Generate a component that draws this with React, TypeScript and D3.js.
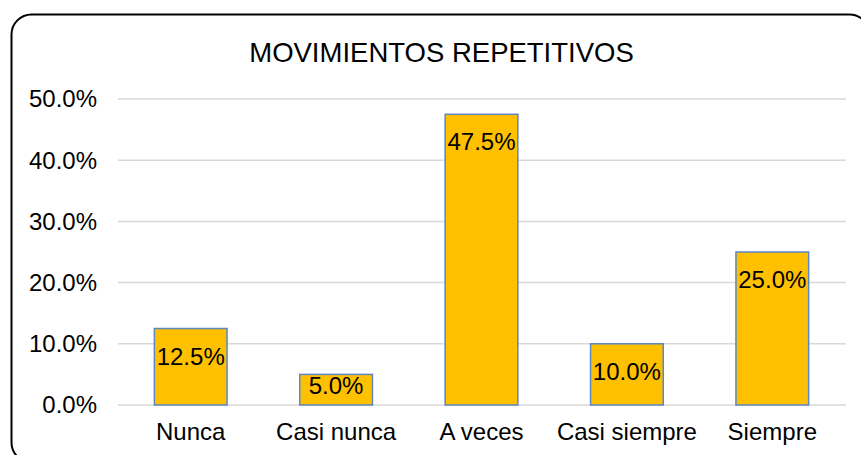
import { scaleBand, scaleLinear } from 'd3'

const categories = ['Nunca', 'Casi nunca', 'A veces', 'Casi siempre', 'Siempre']
const values = [12.5, 5.0, 47.5, 10.0, 25.0]
const yTicks = [0, 10, 20, 30, 40, 50]
const title = 'MOVIMIENTOS REPETITIVOS'

const width = 861
const height = 455
const font = 'Liberation Sans, Arial, sans-serif'

const x = scaleBand()
  .domain(categories)
  .range([118, 845])
  .paddingInner(0.5)
  .paddingOuter(0.25)

const y = scaleLinear().domain([0, 50]).range([405, 99])

function App() {
  return (
    <svg
      width={width}
      height={height}
      style={{ position: 'absolute', left: 0, top: 0, background: '#fff' }}
      fontFamily={font}
    >
      <rect
        x={11.5}
        y={14.5}
        width={858}
        height={448}
        rx={20}
        fill="#fff"
        stroke="#000"
        strokeWidth={2}
      />
      <text x={441.5} y={62} textAnchor="middle" fontSize={27.5} fill="#000">
        {title}
      </text>

      {/* grid + y labels */}
      {yTicks.map((t) => (
        <g key={t}>
          <line
            x1={118}
            x2={846}
            y1={y(t)}
            y2={y(t)}
            stroke="#d9d9d9"
            strokeWidth={1.5}
          />
          <text
            x={97}
            y={y(t)}
            dy="0.35em"
            textAnchor="end"
            fontSize={24}
            fill="#000"
          >
            {t.toFixed(1)}%
          </text>
        </g>
      ))}

      {/* bars */}
      {values.map((v, i) => (
        <rect
          key={categories[i]}
          x={x(categories[i])}
          y={y(v)}
          width={x.bandwidth()}
          height={y(0) - y(v)}
          fill="#ffc000"
          stroke="#5b87c5"
          strokeWidth={1.5}
        />
      ))}

      {/* data labels, inside end */}
      {values.map((v, i) => (
        <text
          key={categories[i]}
          x={x(categories[i]) + x.bandwidth() / 2}
          y={Math.min(y(v) + 36, y(0) - 11)}
          textAnchor="middle"
          fontSize={24}
          fill="#000"
        >
          {v.toFixed(1)}%
        </text>
      ))}

      {/* category labels */}
      {categories.map((c) => (
        <text
          key={c}
          x={x(c) + x.bandwidth() / 2}
          y={440}
          textAnchor="middle"
          fontSize={24}
          fill="#000"
        >
          {c}
        </text>
      ))}
    </svg>
  )
}

export default App
